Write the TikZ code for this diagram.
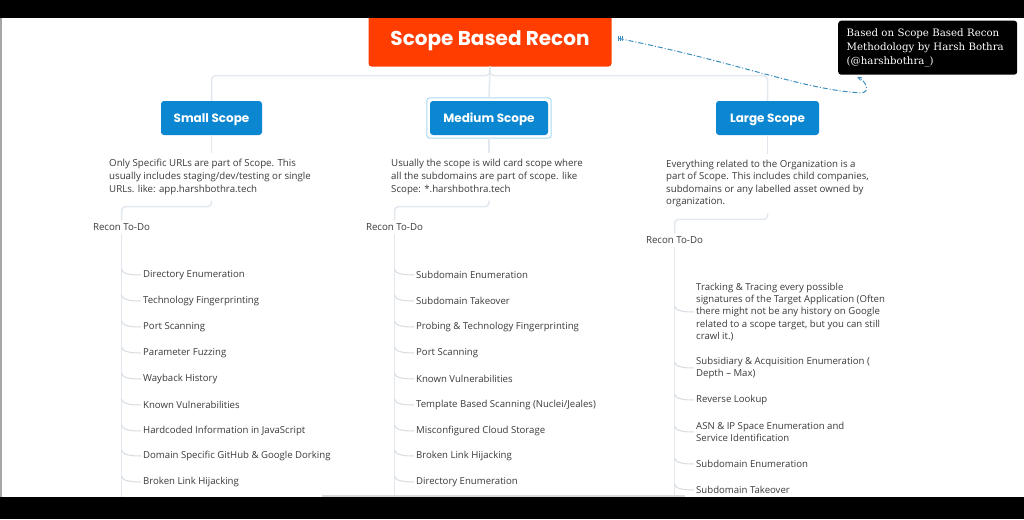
\documentclass[tikz,border=0pt]{standalone}
\usepackage{fontspec}
\setmainfont{Open Sans}
\newfontfamily\titlefont{Poppins}
\newfontfamily\notefont{DejaVu Serif}
\usetikzlibrary{calc,arrows.meta}
\definecolor{rootc}{HTML}{FF3D00}
\definecolor{boxc}{HTML}{0B86D0}
\definecolor{linec}{HTML}{E3E8EE}
\definecolor{branchc}{HTML}{D8DCE1}
\definecolor{txtc}{HTML}{3A3A3A}
\definecolor{relc}{HTML}{3E8FBF}
\definecolor{selc}{HTML}{A9DAF2}
\tikzset{
  rootbox/.style={fill=rootc, rounded corners=3pt, text=white, font=\titlefont\bfseries\fontsize{20}{24}\selectfont, minimum width=243, minimum height=52, inner sep=0, text height=10.4pt, text depth=0pt},
  scopebox/.style={fill=boxc, rounded corners=3pt, text=white, font=\titlefont\bfseries\fontsize{12}{14}\selectfont, minimum height=34, inner sep=0, text height=8.6pt, text depth=0pt},
  desc/.style={anchor=west, align=left, text=txtc, font=\fontsize{9.7}{12.6}\selectfont, inner xsep=0, inner ysep=6},
  recon/.style={text=txtc, font=\fontsize{9.7}{11}\selectfont, inner sep=3},
  item/.style={anchor=west, align=left, text=txtc, font=\fontsize{9.6}{12.3}\selectfont, inner xsep=2, inner ysep=2},
  conn/.style={draw=linec, line width=1.5pt, rounded corners=4pt},
  branch/.style={draw=branchc, line width=1pt},
  notebox/.style={fill=black, rounded corners=3pt, text=white, align=left, text width=162, font=\notefont\fontsize{10.2}{14}\selectfont, minimum height=54, inner xsep=8.5, anchor=north west},
  rel/.style={draw=relc, line width=1pt, dash pattern=on 5pt off 2pt on 1pt off 2pt}
}
\newcommand{\brn}[2]{\draw[branch] ($(#1.south |- #2.west)+(0,-6)$) .. controls +(0,5) and +(-9,0) .. (#2.west);}
\begin{document}
\begin{tikzpicture}[x=1pt,y=-1pt]
\useasboundingbox (0,0) rectangle (1024,519);
\fill[white] (0,0) rectangle (1024,519);

% root and scope boxes
\node[rootbox] (root) at (490,40.5) {Scope Based Recon};
\node[scopebox, minimum width=101] (small) at (211.5,118) {Small Scope};
\node[scopebox, minimum width=118] (medium) at (489,118) {Medium Scope};
\node[scopebox, minimum width=103] (large) at (767.5,118) {Large Scope};
\draw[selc, line width=1pt, rounded corners=3pt] ($(medium.south west)+(-3,3)$) rectangle ($(medium.north east)+(3,-3)$);

% note
\node[notebox] (note) at (838,20.5) {Based on Scope Based Recon\\Methodology by Harsh Bothra\\(@harshbothra\_)};

% root connectors
\draw[conn] (root.south) -- ++(0,9) -| (small.north);
\draw[conn] (root.south) -- ++(0,9) -| (large.north);
\draw[conn] (root.south) -- ($(medium.north)+(0,-3)$);

% descriptions
\node[desc] (sdesc) at (109,177) {Only Specific URLs are part of Scope. This\\usually includes staging/dev/testing or single\\URLs. like: app.harshbothra.tech};
\node[desc] (mdesc) at (391,177) {Usually the scope is wild card scope where\\all the subdomains are part of scope. like\\Scope: *.harshbothra.tech};
\node[desc] (ldesc) at (666,183.5) {Everything related to the Organization is a\\part of Scope. This includes child companies,\\subdomains or any labelled asset owned by\\organization.};

\node[recon] (srecon) at (121.5,227) {Recon To-Do};
\node[recon] (mrecon) at (394.5,227) {Recon To-Do};
\node[recon] (lrecon) at (674.5,240) {Recon To-Do};

\draw[conn] (small.south) -- (small.south |- sdesc.north);
\draw[conn] ($(medium.south)+(0,3)$) -- (medium.south |- mdesc.north);
\draw[conn] (large.south) -- (large.south |- ldesc.north);
\draw[conn] (small.south |- sdesc.south) -- ++(0,6) -| (srecon.north);
\draw[conn] (medium.south |- mdesc.south) -- ++(0,6) -| (mrecon.north);
\draw[conn] (large.south |- ldesc.south) -- ++(0,6) -| (lrecon.north);

% trunks
\draw[conn] (srecon.south) -- (srecon.south |- 0,505);
\draw[conn] (mrecon.south) -- (mrecon.south |- 0,505);
\draw[conn] (lrecon.south) -- (lrecon.south |- 0,505);

% small items
\node[item] (s1) at (141,275) {Directory Enumeration};
\node[item] (s2) at (141,301) {Technology Fingerprinting};
\node[item] (s3) at (141,327) {Port Scanning};
\node[item] (s4) at (141,353) {Parameter Fuzzing};
\node[item] (s5) at (141,379) {Wayback History};
\node[item] (s6) at (141,405) {Known Vulnerabilities};
\node[item] (s7) at (141,431) {Hardcoded Information in JavaScript};
\node[item] (s8) at (141,456) {Domain Specific GitHub \& Google Dorking};
\node[item] (s9) at (141,482) {Broken Link Hijacking};
\foreach \i in {1,...,9} {\brn{srecon}{s\i}}

% medium items
\node[item] (m1) at (414,275) {Subdomain Enumeration};
\node[item] (m2) at (414,301) {Subdomain Takeover};
\node[item] (m3) at (414,327) {Probing \& Technology Fingerprinting};
\node[item] (m4) at (414,353) {Port Scanning};
\node[item] (m5) at (414,379) {Known Vulnerabilities};
\node[item] (m6) at (414,405) {Template Based Scanning (Nuclei/Jeales)};
\node[item] (m7) at (414,431) {Misconfigured Cloud Storage};
\node[item] (m8) at (414,456) {Broken Link Hijacking};
\node[item] (m9) at (414,482) {Directory Enumeration};
\foreach \i in {1,...,9} {\brn{mrecon}{m\i}}

% large items
\node[item] (l1) at (694,312) {Tracking \& Tracing every possible\\signatures of the Target Application (Often\\there might not be any history on Google\\related to a scope target, but you can still\\crawl it.)};
\node[item] (l2) at (694,368) {Subsidiary \& Acquisition Enumeration (\\Depth -- Max)};
\node[item] (l3) at (694,400) {Reverse Lookup};
\node[item] (l4) at (694,432) {ASN \& IP Space Enumeration and\\Service Identification};
\node[item] (l5) at (694,464) {Subdomain Enumeration};
\node[item] (l6) at (694,490) {Subdomain Takeover};
\foreach \i in {1,...,6} {\brn{lrecon}{l\i}}

% relationship
\draw[rel, -{Stealth[length=5pt,width=4pt]}] ($(root.east)+(7,-2)$) .. controls +(120,24) and +(-60,-4) .. ($(note.south west)+(22,18)$) .. controls +(12,0) and +(8,4) .. ($(note.south west)+(19,2)$);
\foreach \d in {0,2,4} \draw[relc, line width=0.7pt] ($(root.east)+(7+\d,-4.5)$) -- ++(0,5);

% frame
\fill[black] (0,0) rectangle (1024,18);
\fill[black] (0,497) rectangle (1024,519);
\fill[gray!70] (0,18) rectangle (1.5,497);
\fill[black!15] (322,494.5) rectangle (685,497);
\end{tikzpicture}
\end{document}
